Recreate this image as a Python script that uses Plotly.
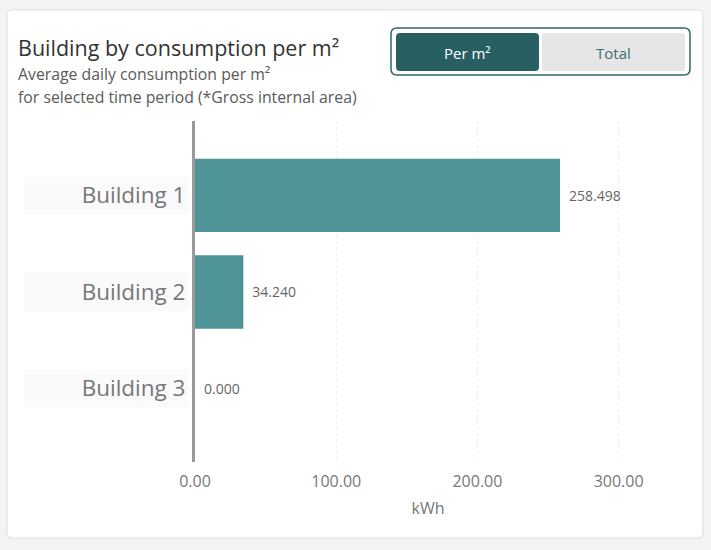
import plotly.graph_objects as go

buildings = ["Building 1", "Building 2", "Building 3"]
consumption_per_m2 = [258.498, 34.240, 0.000]
x_ticks = [0, 100, 200, 300]
x_ticktext = ["0.00", "100.00", "200.00", "300.00"]

W, H = 711, 550
FONT = "Open Sans"


def px(x):
    return x / W


def py(y):
    return 1 - y / H


def rrect(x0, y0, x1, y1, r):
    rx, ry = r / W, r / H
    X0, X1 = px(x0), px(x1)
    Y0, Y1 = py(y0), py(y1)
    return (f"M {X0+rx},{Y0} L {X1-rx},{Y0} Q {X1},{Y0} {X1},{Y0-ry} "
            f"L {X1},{Y1+ry} Q {X1},{Y1} {X1-rx},{Y1} "
            f"L {X0+rx},{Y1} Q {X0},{Y1} {X0},{Y1+ry} "
            f"L {X0},{Y0-ry} Q {X0},{Y0} {X0+rx},{Y0} Z")


fig = go.Figure()
fig.add_trace(go.Bar(
    y=buildings, x=consumption_per_m2, orientation="h",
    marker=dict(color="#4f9598", line=dict(width=0)),
    texttemplate="\u00a0\u2009%{x:.3f}", textposition="outside",
    textfont=dict(family=FONT, size=14, color="#666666"),
    cliponaxis=False, width=0.76, hoverinfo="skip",
))

shapes = [
    dict(type="path", xref="paper", yref="paper", path=rrect(7, 10, 703, 538, 5),
         fillcolor="white", line=dict(color="#e2e2e2", width=1.2), layer="below"),
    dict(type="path", xref="paper", yref="paper", path=rrect(391, 28, 690, 75, 6),
         fillcolor="white", line=dict(color="#2e6769", width=1.5), layer="below"),
    dict(type="path", xref="paper", yref="paper", path=rrect(396, 33, 539, 71, 4),
         fillcolor="#275f62", line=dict(width=0), layer="below"),
    dict(type="path", xref="paper", yref="paper", path=rrect(542, 33, 685, 71, 3),
         fillcolor="#e6e6e6", line=dict(width=0), layer="below"),
]
for i, b in enumerate(buildings):
    shapes.append(dict(type="rect", xref="paper", yref="y",
                       x0=px(24), x1=px(188), y0=i - 0.195, y1=i + 0.195,
                       line=dict(width=0), fillcolor="#fafafa", layer="below"))

annotations = [
    dict(text="Building by consumption per m²", x=px(16), y=py(47), xref="paper", yref="paper",
         xanchor="left", yanchor="middle", showarrow=False,
         font=dict(family=FONT, size=21.5, color="#333333")),
    dict(text="Average daily consumption per m²", x=px(16), y=py(74), xref="paper", yref="paper",
         xanchor="left", yanchor="middle", showarrow=False,
         font=dict(family=FONT, size=15.8, color="#5a5a5a")),
    dict(text="for selected time period (*Gross internal area)", x=px(16), y=py(97), xref="paper", yref="paper",
         xanchor="left", yanchor="middle", showarrow=False,
         font=dict(family=FONT, size=15.8, color="#5a5a5a")),
    dict(text="Per m²", x=px(467), y=py(53), xref="paper", yref="paper",
         xanchor="center", yanchor="middle", showarrow=False,
         font=dict(family=FONT, size=15, color="white")),
    dict(text="Total", x=px(613), y=py(53), xref="paper", yref="paper",
         xanchor="center", yanchor="middle", showarrow=False,
         font=dict(family=FONT, size=15, color="#3f6e71")),
]

fig.update_layout(
    width=W, height=H, margin=dict(l=0, r=0, t=0, b=0, autoexpand=False),
    paper_bgcolor="#f3f3f3", plot_bgcolor="rgba(0,0,0,0)",
    showlegend=False, shapes=shapes, annotations=annotations,
    xaxis=dict(domain=[px(195), px(661)], range=[0, 330], automargin=False,
               tickvals=x_ticks, ticktext=x_ticktext,
               tickfont=dict(family=FONT, size=16, color="#777777"),
               showgrid=True, gridcolor="#efefef", griddash="dot", gridwidth=1,
               zeroline=False, showline=False, ticks="", ticklabelstandoff=8,
               title=dict(text="kWh", font=dict(family=FONT, size=16, color="#777777"), standoff=11),
               fixedrange=True),
    yaxis=dict(domain=[py(462), py(121)], range=[2.76, -0.77], automargin=False,
               tickfont=dict(family=FONT, size=22.5, color="#777777"),
               showgrid=False, zeroline=False, showline=True, linecolor="#9a9a9a", linewidth=3,
               ticks="", ticklabelstandoff=2, fixedrange=True),
)

fig.write_html(
    "out.html",
    config={"displayModeBar": False},
    post_script="document.body.style.margin='0';document.body.style.background='#f3f3f3';",
)
